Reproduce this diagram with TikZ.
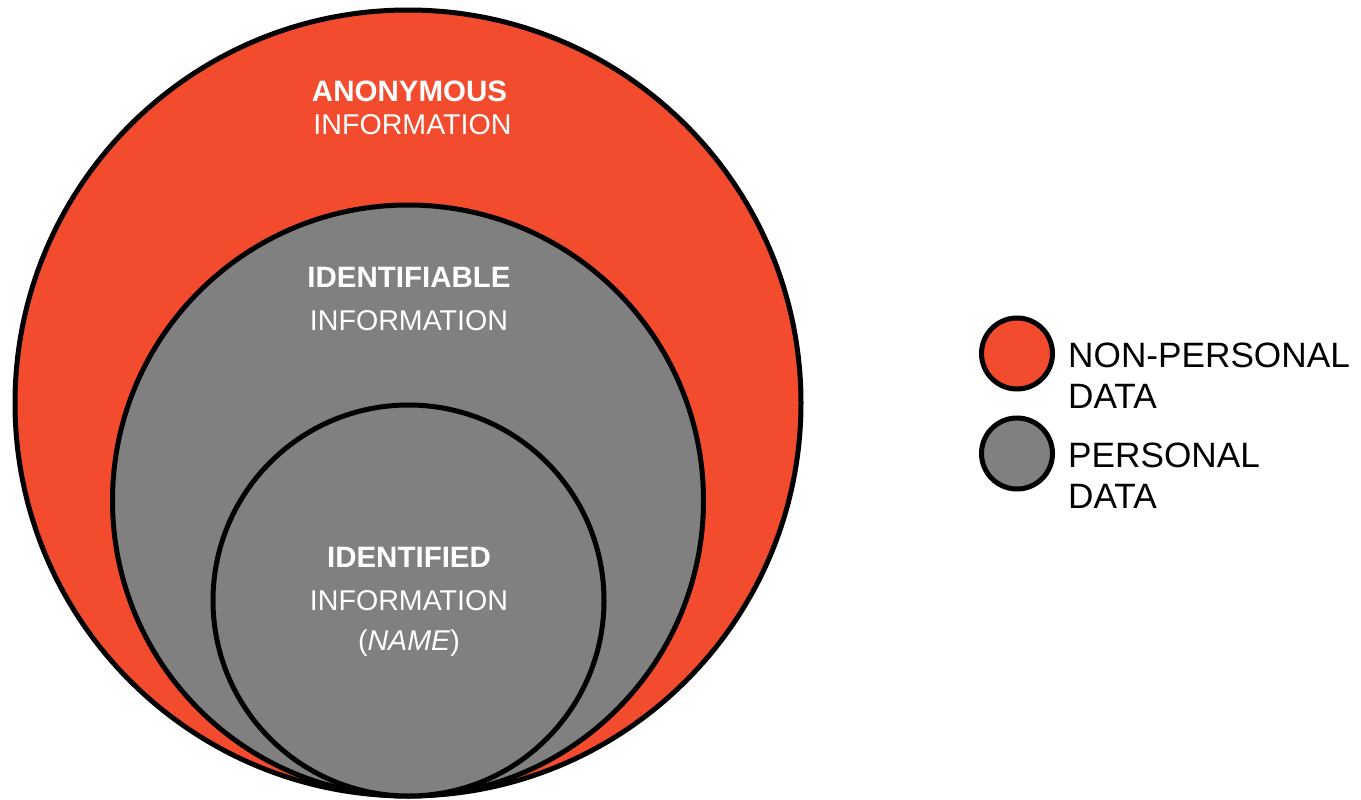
\documentclass[tikz,border=0pt]{standalone}
\usepackage{fontspec}
\setmainfont{Liberation Sans}
\definecolor{anonred}{RGB}{243,75,45}
\definecolor{persgrey}{RGB}{128,128,128}

\begin{document}
\begin{tikzpicture}[x=1pt, y=-1pt,
    ring/.style={circle, draw=black, line width=5pt, inner sep=0pt},
    lbl/.style={text=white, anchor=base, inner sep=0pt, font=\fontsize{28.6}{32}\selectfont},
    head/.style={lbl, font=\fontsize{29.5}{32}\bfseries},
    key/.style={anchor=base west, inner sep=0pt, font=\fontsize{35.2}{40}\selectfont}]
  \useasboundingbox (0,0) rectangle (1361,800);
  \node[ring, fill=anonred, minimum size=786pt] (c1) at (408,403) {};
  \node[ring, fill=persgrey, minimum size=591pt] (c2) at (408,500.5) {};
  \node[ring, fill=persgrey, minimum size=391pt] (c3) at (408.5,600.5) {};
  \node[head] (a1) at (409.5,102) {ANONYMOUS};
  \node[lbl] (a2) at (412.5,134) {INFORMATION};
  \node[head] (b1) at (409,287) {IDENTIFIABLE};
  \node[lbl] (b2) at (409,330) {INFORMATION};
  \node[head] (d1) at (409,567) {IDENTIFIED};
  \node[lbl] (d2) at (409,610) {INFORMATION};
  \node[lbl] (d3) at (409,650) {(\textit{NAME})};
  \node[ring, fill=anonred, minimum size=71pt] (k1) at (1017,353.5) {};
  \node[ring, fill=persgrey, minimum size=71pt] (k2) at (1017,453.5) {};
  \node[key] (k1a) at (1068,367) {NON-PERSONAL};
  \node[key] (k1b) at (1068,408) {DATA};
  \node[key] (k2a) at (1068,467) {PERSONAL};
  \node[key] (k2b) at (1068,508) {DATA};
\end{tikzpicture}
\end{document}
